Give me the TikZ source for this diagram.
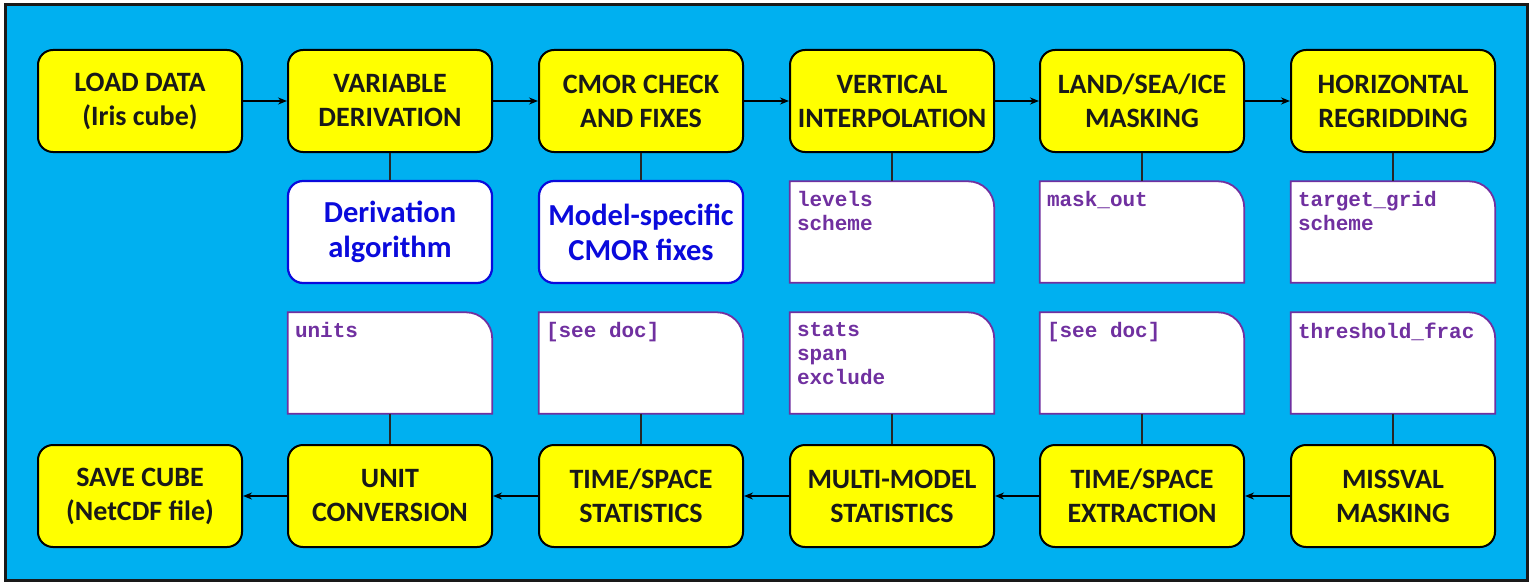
\documentclass[tikz,border=0pt]{standalone}
\usepackage{fontspec}
\setmainfont{Carlito}
\newfontfamily\monof{Liberation Mono}
\usetikzlibrary{arrows.meta}
\definecolor{bgblue}{RGB}{0,176,240}
\definecolor{yel}{RGB}{255,255,0}
\definecolor{purp}{RGB}{112,48,160}
\definecolor{dblue}{RGB}{10,10,220}
\tikzset{
  stepbox/.style={draw=black, line width=2pt, fill=yel, rounded corners=15pt,
    minimum width=204pt, minimum height=102pt, align=center,
    font=\fontsize{28}{34}\selectfont\bfseries, text=black!90},
  infobox/.style={draw=dblue, line width=2.2pt, fill=white, rounded corners=15pt,
    minimum width=204pt, minimum height=102pt, align=center,
    font=\fontsize{30.5}{35}\selectfont\bfseries, text=dblue},
  notebox/.style={draw=none, minimum width=204pt, minimum height=101pt},
  notetext/.style={anchor=north west, align=left, inner sep=0pt, text=purp,
    font=\monof\fontsize{21}{24}\selectfont\bfseries},
  outline/.style={draw=purp, line width=1.8pt, fill=white},
  flow/.style={-{Stealth[length=9pt,width=7pt]}, line width=1.6pt, black},
  link/.style={line width=1.6pt, black!85},
}
\begin{document}
\begin{tikzpicture}[x=1pt,y=1pt]
\useasboundingbox (0,0) rectangle (1533,-586);
\fill[white] (0,0) rectangle (1533,-586);
\draw[fill=bgblue, line width=3pt, draw=black!90] (5,-5) rectangle (1527,-580);

% top row
\node[stepbox] (a1) at (140,-101) {LOAD DATA\\(Iris cube)};
\node[stepbox] (a2) at (390,-101) {VARIABLE\\DERIVATION};
\node[stepbox] (a3) at (641,-101) {CMOR CHECK\\AND FIXES};
\node[stepbox] (a4) at (892,-101) {VERTICAL\\INTERPOLATION};
\node[stepbox] (a5) at (1142,-101) {LAND/SEA/ICE\\MASKING};
\node[stepbox] (a6) at (1393,-101) {HORIZONTAL\\REGRIDDING};

% bottom row
\node[stepbox] (b1) at (140,-496) {SAVE CUBE\\(NetCDF file)};
\node[stepbox] (b2) at (390,-496) {UNIT\\CONVERSION};
\node[stepbox] (b3) at (641,-496) {TIME/SPACE\\STATISTICS};
\node[stepbox] (b4) at (892,-496) {MULTI-MODEL\\STATISTICS};
\node[stepbox] (b5) at (1142,-496) {TIME/SPACE\\EXTRACTION};
\node[stepbox] (b6) at (1393,-496) {MISSVAL\\MASKING};

% info boxes
\node[infobox] (i2) at (390,-232) {Derivation\\algorithm};
\node[infobox] (i3) at (641,-232) {Model-specific\\CMOR fixes};

% note boxes
\node[notebox] (n4) at (892,-232) {};
\node[notebox] (n5) at (1142,-232) {};
\node[notebox] (n6) at (1393,-232) {};
\node[notebox] (m2) at (390,-363) {};
\node[notebox] (m3) at (641,-363) {};
\node[notebox] (m4) at (892,-363) {};
\node[notebox] (m5) at (1142,-363) {};
\node[notebox] (m6) at (1393,-363) {};
\foreach \n in {n4,n5,n6,m2,m3,m4,m5,m6}{
  \draw[outline] (\n.south west) -- (\n.north west) -- ([xshift=-26pt]\n.north east)
    arc[start angle=90, end angle=0, radius=26pt] -- (\n.south east) -- cycle;
}
\node[notetext] (tn4) at ([shift={(7,-10)}]n4.north west) {levels\\scheme};
\node[notetext] (tn5) at ([shift={(7,-10)}]n5.north west) {mask\_out};
\node[notetext] (tn6) at ([shift={(7,-10)}]n6.north west) {target\_grid\\scheme};
\node[notetext] (tm2) at ([shift={(7,-10)}]m2.north west) {units};
\node[notetext] (tm3) at ([shift={(7,-10)}]m3.north west) {[see doc]};
\node[notetext] (tm4) at ([shift={(7,-10)}]m4.north west) {stats\\span\\exclude};
\node[notetext] (tm5) at ([shift={(7,-10)}]m5.north west) {[see doc]};
\node[notetext] (tm6) at ([shift={(7,-10)}]m6.north west) {threshold\_frac};

% flow arrows
\draw[flow] (a1) -- (a2);
\draw[flow] (a2) -- (a3);
\draw[flow] (a3) -- (a4);
\draw[flow] (a4) -- (a5);
\draw[flow] (a5) -- (a6);
\draw[flow] (b6) -- (b5);
\draw[flow] (b5) -- (b4);
\draw[flow] (b4) -- (b3);
\draw[flow] (b3) -- (b2);
\draw[flow] (b2) -- (b1);

% vertical links
\draw[link] (a2.south) -- (i2.north);
\draw[link] (a3.south) -- (i3.north);
\draw[link] (a4.south) -- (n4.north);
\draw[link] (a5.south) -- (n5.north);
\draw[link] (a6.south) -- (n6.north);
\draw[link] (m2.south) -- (b2.north);
\draw[link] (m3.south) -- (b3.north);
\draw[link] (m4.south) -- (b4.north);
\draw[link] (m5.south) -- (b5.north);
\draw[link] (m6.south) -- (b6.north);
\end{tikzpicture}
\end{document}
